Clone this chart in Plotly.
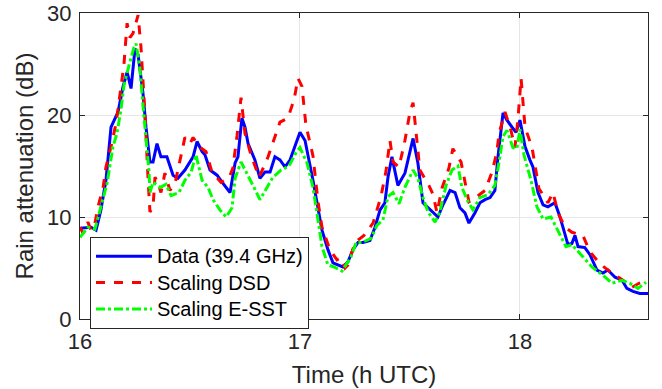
import plotly.graph_objects as go

# Data (39.4 GHz)
t_data = [16.000, 16.050, 16.073, 16.095, 16.118, 16.141, 16.173, 16.195, 16.214, 16.232,
          16.250, 16.264, 16.286, 16.300, 16.318, 16.332, 16.350, 16.368, 16.395, 16.423,
          16.445, 16.477, 16.514, 16.532, 16.555, 16.568, 16.591, 16.623, 16.650, 16.682,
          16.705, 16.718, 16.736, 16.750, 16.764, 16.795, 16.818, 16.841, 16.864, 16.886,
          16.909, 16.932, 16.955, 16.977, 17.000, 17.023, 17.045, 17.059, 17.100, 17.127,
          17.150, 17.173, 17.195, 17.218, 17.241, 17.264, 17.286, 17.318, 17.341, 17.364,
          17.386, 17.400, 17.418, 17.445, 17.477, 17.514, 17.536, 17.559, 17.582, 17.605,
          17.627, 17.650, 17.682, 17.705, 17.727, 17.750, 17.768, 17.795, 17.818, 17.841,
          17.864, 17.886, 17.900, 17.923, 17.941, 17.964, 17.982, 18.000, 18.023, 18.045,
          18.059, 18.082, 18.105, 18.127, 18.159, 18.182, 18.205, 18.218, 18.236, 18.250,
          18.264, 18.295, 18.318, 18.350, 18.377, 18.400, 18.432, 18.464, 18.486, 18.514,
          18.545, 18.582]
v_data = [8.9, 9.0, 8.7, 10.7, 13.6, 18.8, 20.3, 22.7, 24.2, 22.6,
          26.5, 25.9, 22.2, 18.8, 15.4, 15.4, 17.2, 15.9, 15.9, 14.1,
          13.8, 14.6, 15.9, 17.4, 16.4, 16.1, 14.6, 14.1, 13.3, 12.4,
          15.3, 15.9, 19.7, 18.8, 17.2, 15.6, 13.8, 14.4, 14.4, 15.9,
          15.6, 14.9, 15.6, 16.9, 18.3, 17.5, 15.3, 13.6, 8.7, 6.8,
          5.5, 5.3, 5.1, 5.6, 6.8, 7.5, 7.5, 7.7, 9.0, 10.7,
          11.4, 13.9, 15.9, 13.1, 14.3, 17.7, 15.3, 11.4, 10.9, 10.5,
          10.0, 11.2, 12.6, 12.4, 10.9, 10.4, 9.4, 10.4, 11.4, 11.7,
          11.9, 12.6, 15.9, 20.2, 19.5, 18.8, 18.3, 19.5, 16.9, 15.6,
          14.9, 12.4, 11.2, 11.0, 11.4, 10.0, 8.2, 7.3, 7.4, 8.2,
          7.1, 7.0, 6.3, 4.8, 4.5, 4.8, 4.1, 3.8, 3.0, 2.7,
          2.5, 2.5]

# Scaling DSD
t_dsd = [16.000, 16.014, 16.036, 16.050, 16.068, 16.082, 16.105, 16.118, 16.141, 16.164,
         16.186, 16.200, 16.214, 16.227, 16.241, 16.255, 16.264, 16.277, 16.295, 16.309,
         16.318, 16.332, 16.341, 16.355, 16.368, 16.386, 16.409, 16.432, 16.459, 16.477,
         16.500, 16.514, 16.541, 16.573, 16.600, 16.641, 16.677, 16.695, 16.714, 16.732,
         16.750, 16.777, 16.814, 16.855, 16.909, 16.945, 16.973, 16.991, 17.009, 17.027,
         17.059, 17.082, 17.100, 17.136, 17.168, 17.186, 17.205, 17.218, 17.250, 17.291,
         17.332, 17.368, 17.391, 17.409, 17.423, 17.450, 17.477, 17.500, 17.514, 17.532,
         17.545, 17.586, 17.605, 17.623, 17.645, 17.677, 17.695, 17.732, 17.750, 17.768,
         17.805, 17.841, 17.873, 17.895, 17.905, 17.932, 17.959, 17.977, 17.991, 18.005,
         18.023, 18.055, 18.086, 18.127, 18.150, 18.173, 18.205, 18.236, 18.286, 18.318,
         18.364, 18.418, 18.468, 18.509, 18.541, 18.582]
v_dsd = [9.0, 8.4, 9.5, 8.7, 9.4, 11.0, 12.9, 14.9, 16.9, 19.2,
         22.7, 25.0, 29.0, 27.6, 28.0, 29.2, 29.8, 26.7, 20.2, 13.9,
         10.5, 11.0, 13.9, 13.3, 12.4, 14.3, 12.6, 13.3, 15.9, 17.8,
         17.2, 17.8, 16.9, 16.4, 14.4, 13.4, 13.8, 14.8, 18.0, 21.7,
         18.2, 16.1, 13.9, 15.9, 19.3, 19.7, 21.5, 23.6, 22.8, 19.0,
         16.0, 11.5, 9.0, 6.8, 5.8, 6.0, 5.0, 5.3, 7.5, 8.2,
         9.4, 12.0, 14.5, 17.5, 15.4, 14.9, 17.5, 20.3, 21.2, 17.1,
         14.6, 13.1, 12.2, 10.4, 12.8, 14.8, 16.7, 15.4, 13.4, 11.5,
         12.0, 12.6, 14.4, 16.4, 18.2, 20.3, 18.5, 16.8, 19.6, 23.6,
         18.8, 16.8, 12.8, 11.4, 12.4, 10.4, 9.0, 8.5, 8.2, 6.6,
         5.4, 4.5, 3.8, 3.1, 3.5, 3.8]

# Scaling E-SST
t_esst = [16.000, 16.036, 16.068, 16.091, 16.123, 16.150, 16.168, 16.186, 16.200, 16.223,
          16.245, 16.255, 16.273, 16.286, 16.305, 16.314, 16.318, 16.332, 16.364, 16.391,
          16.414, 16.450, 16.477, 16.505, 16.527, 16.555, 16.582, 16.605, 16.636, 16.664,
          16.691, 16.705, 16.732, 16.759, 16.791, 16.818, 16.845, 16.877, 16.914, 16.950,
          16.982, 17.000, 17.032, 17.059, 17.077, 17.100, 17.127, 17.155, 17.191, 17.232,
          17.255, 17.282, 17.323, 17.350, 17.377, 17.400, 17.423, 17.450, 17.477, 17.514,
          17.536, 17.559, 17.582, 17.614, 17.636, 17.664, 17.691, 17.718, 17.736, 17.764,
          17.786, 17.818, 17.855, 17.886, 17.905, 17.923, 17.941, 17.968, 17.986, 18.000,
          18.018, 18.050, 18.077, 18.105, 18.141, 18.177, 18.209, 18.236, 18.268, 18.327,
          18.377, 18.418, 18.464, 18.500, 18.536, 18.573]
v_esst = [8.0, 9.0, 8.8, 10.7, 13.3, 16.9, 18.2, 20.5, 22.9, 24.9,
          26.6, 27.0, 24.4, 21.0, 16.8, 14.4, 12.4, 13.4, 12.9, 13.2,
          12.1, 12.4, 13.6, 14.4, 16.1, 13.6, 12.9, 11.7, 10.7, 10.0,
          10.9, 13.8, 15.4, 14.3, 12.9, 11.7, 12.7, 13.9, 14.6, 15.0,
          16.3, 16.8, 15.3, 12.9, 10.4, 7.1, 5.3, 5.1, 4.7, 6.1,
          7.5, 7.5, 7.9, 9.2, 9.7, 12.0, 12.4, 11.3, 12.9, 14.6,
          13.8, 11.9, 10.5, 9.5, 10.5, 13.1, 14.6, 15.0, 12.9, 11.5,
          10.7, 11.9, 12.2, 13.1, 15.4, 17.9, 18.5, 16.8, 16.7, 18.6,
          16.1, 13.6, 11.0, 9.8, 10.0, 8.4, 7.1, 7.3, 6.5, 5.1,
          4.3, 3.5, 3.8, 3.5, 3.0, 3.6]

series_names = ["Data (39.4 GHz)", "Scaling DSD", "Scaling E-SST"]
x_ticks = [16, 17, 18]
y_ticks = [0, 10, 20, 30]

TXT = "#262626"
FONT = "Liberation Sans, Arial, sans-serif"


def legend_label(s):
    return '<span style="font-size:20px">' + s + '</span>'


fig = go.Figure()
fig.add_trace(go.Scatter(x=t_data, y=v_data, mode="lines", name=legend_label(series_names[0]),
                         line=dict(color="#0000FF", width=3)))
fig.add_trace(go.Scatter(x=t_dsd, y=v_dsd, mode="lines", name=legend_label(series_names[1]),
                         line=dict(color="#FF0000", width=3, dash="dash")))
fig.add_trace(go.Scatter(x=t_esst, y=v_esst, mode="lines", name=legend_label(series_names[2]),
                         line=dict(color="#00FF00", width=3, dash="dashdot")))

axis_common = dict(showline=True, linecolor=TXT, linewidth=1, mirror="ticks",
                   ticks="inside", ticklen=5, tickcolor=TXT, showgrid=True,
                   gridcolor="#e6e6e6", gridwidth=1, zeroline=False, automargin=False,
                   tickfont=dict(family=FONT, size=22, color=TXT))

fig.update_xaxes(range=[16, 18.582], tickvals=x_ticks, ticktext=[str(v) for v in x_ticks],
                 ticklabelstandoff=3,
                 title=dict(text="Time (h UTC)", font=dict(family=FONT, size=24, color=TXT),
                            standoff=12),
                 **axis_common)
fig.update_yaxes(range=[0, 30], tickvals=y_ticks, ticktext=[str(v) for v in y_ticks],
                 ticklabelstandoff=3,
                 title=dict(text="Rain attenuation (dB)", font=dict(family=FONT, size=24, color=TXT),
                            standoff=6),
                 **axis_common)

fig.update_layout(
    width=662, height=389,
    margin=dict(l=80, r=14, t=13, b=70, autoexpand=False),
    paper_bgcolor="white", plot_bgcolor="white",
    showlegend=True,
    legend=dict(x=0.0176, y=0.268, xanchor="left", yanchor="top",
                bgcolor="white", bordercolor=TXT, borderwidth=1,
                font=dict(family=FONT, size=18, color="black"),
                itemwidth=56, tracegroupgap=0),
)

fig.write_html("out.html")
